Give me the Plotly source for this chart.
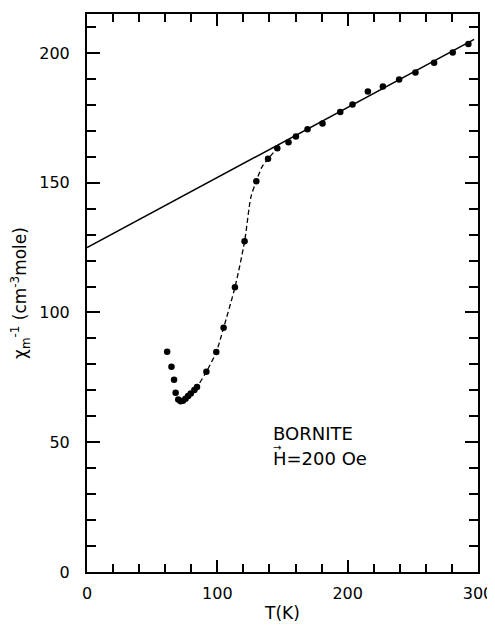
import plotly.graph_objects as go

# measured points
T_data = [61.5, 64.8, 66.8, 68.0, 70.0, 71.8, 73.6, 75.6, 77.6, 79.6, 82.4, 84.4,
          91.6, 99.2, 104.8, 113.5, 120.9, 129.9, 138.9, 146.0, 154.6, 160.3,
          169.2, 180.7, 194.3, 203.7, 215.5, 227.0, 239.5, 252.0, 266.3, 280.6, 292.6]
chi_inv = [84.9, 79.1, 74.1, 69.1, 66.5, 65.8, 66.0, 66.8, 67.8, 68.8, 70.1, 71.3,
           77.2, 84.8, 94.1, 109.7, 127.4, 150.6, 159.2, 163.3, 165.6, 167.8,
           170.6, 172.8, 177.2, 180.1, 185.1, 187.1, 189.8, 192.5, 196.2, 200.2, 203.4]

# dashed guide-to-the-eye curve
T_guide = [79.0, 84.4, 91.6, 99.2, 104.8, 113.5, 120.9, 125.8, 129.9, 134.2, 138.9, 146.0]
chi_guide = [68.0, 71.3, 77.2, 84.8, 94.1, 109.7, 127.4, 144.5, 150.6, 156.0, 159.2, 163.3]

# Curie-Weiss straight-line fit
T_fit = [0, 297]
chi_fit = [125.0, 205.2]

x_ticks = [0, 100, 200, 300]
y_ticks = [0, 50, 100, 150, 200]

FONT = "DejaVu Sans"

fig = go.Figure()
fig.add_trace(go.Scatter(x=T_fit, y=chi_fit, mode="lines",
                         line=dict(color="black", width=1.5), hoverinfo="skip"))
fig.add_trace(go.Scatter(x=T_guide, y=chi_guide, mode="lines",
                         line=dict(color="black", width=1.3, dash="5px,3px",
                                   shape="spline", smoothing=0.8), hoverinfo="skip"))
fig.add_trace(go.Scatter(x=T_data, y=chi_inv, mode="markers",
                         marker=dict(color="black", size=6.5)))

fig.add_annotation(x=141.4, y=53.5, xref="x", yref="y", text="BORNITE",
                   showarrow=False, xanchor="left", yanchor="middle",
                   font=dict(family=FONT, size=18, color="black"))
fig.add_annotation(x=141.4, y=43.8, xref="x", yref="y", text="H=200 Oe",
                   showarrow=False, xanchor="left", yanchor="middle",
                   font=dict(family=FONT, size=18, color="black"))
fig.add_annotation(x=146.0, y=47.8, xref="x", yref="y", text="→",
                   showarrow=False, xanchor="center", yanchor="middle",
                   font=dict(family=FONT, size=10, color="black"))

# the page body has an 8px margin, so the figure is sized/offset to compensate
fig.update_layout(
    width=487, height=615,
    margin=dict(l=78.5, r=17, t=5.5, b=51),
    paper_bgcolor="white", plot_bgcolor="white",
    showlegend=False,
    font=dict(family=FONT, size=16, color="black"),
    xaxis=dict(range=[0, 300], tickvals=x_ticks, ticks="inside", ticklen=12,
               tickwidth=1.5, tickcolor="black", showline=True, linewidth=2,
               linecolor="black", mirror="ticks", showgrid=False, zeroline=False,
               ticklabelstandoff=6, automargin=False,
               minor=dict(dtick=20, ticks="inside", ticklen=8, tickwidth=1.5,
                          tickcolor="black", showgrid=False),
               title=dict(text="T(K)", font=dict(family=FONT, size=17), standoff=10)),
    yaxis=dict(range=[0, 215], tickvals=y_ticks, ticks="inside", ticklen=13,
               tickwidth=1.5, tickcolor="black", showline=True, linewidth=2,
               linecolor="black", mirror="ticks", showgrid=False, zeroline=False,
               ticklabelstandoff=12, automargin=False,
               minor=dict(dtick=10, ticks="inside", ticklen=9, tickwidth=1.5,
                          tickcolor="black", showgrid=False),
               title=dict(text="χ<sub>m</sub><sup>-1</sup> (cm<sup>-3</sup>mole)",
                          font=dict(family=FONT, size=17), standoff=8)),
)

fig.write_html("out.html")
